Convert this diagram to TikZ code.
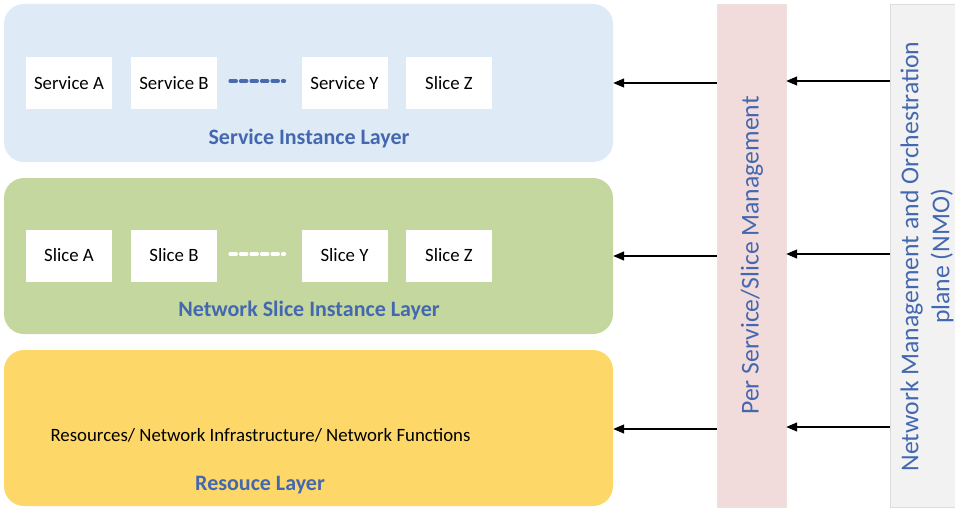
\documentclass[tikz,border=0pt]{standalone}
\usepackage{fontspec}
\setmainfont{Carlito}
\usetikzlibrary{arrows.meta}
\definecolor{svcfill}{HTML}{DEEAF6}
\definecolor{slcfill}{HTML}{C4D79E}
\definecolor{resfill}{HTML}{FDD868}
\definecolor{layertext}{HTML}{4468B0}
\definecolor{pmfill}{HTML}{F2DCDB}
\definecolor{pmedge}{HTML}{EDE2E1}
\definecolor{nmofill}{HTML}{F2F2F2}
\definecolor{nmoedge}{HTML}{DCDCDC}
\definecolor{dotblue}{HTML}{4A6AAE}
\tikzset{
  layer/.style={rounded corners=20pt, minimum width=609pt, inner sep=0pt, draw=none},
  item/.style={fill=white, minimum width=86pt, minimum height=52pt, inner sep=0pt,
               font=\fontsize{18.8}{20}\selectfont},
  layername/.style={text=layertext, font=\bfseries\fontsize{22}{24}\selectfont},
  bar/.style={minimum height=503pt, inner sep=0pt},
  bartext/.style={text=layertext, rotate=90, align=center, font=\fontsize{25.7}{31}\selectfont},
  ellip/.style={line width=3.5pt, line cap=round, dash pattern=on 6pt off 4.5pt},
  arr/.style={line width=1.2pt, -{Triangle[length=11pt,width=9pt]}}
}
\begin{document}
\begin{tikzpicture}[x=1pt, y=-1pt]
\useasboundingbox (0,0) rectangle (955,508);

% three layers
\node[layer, fill=svcfill, minimum height=158pt] (sil) at (308.5,83) {};
\node[layer, fill=slcfill, minimum height=156pt] (nsil) at (308.5,256) {};
\node[layer, fill=resfill, minimum height=156pt] (rl) at (308.5,428) {};

% service instances
\node[item] (sa) at (69,83) {Service A};
\node[item] (sb) at (174,83) {Service B};
\node[item] (sy) at (344.5,83) {Service Y};
\node[item] (sz) at (449,83) {Slice Z};
\draw[ellip, draw=dotblue, shorten <=13pt, shorten >=17pt] ([yshift=2pt]sb.east) -- ([yshift=2pt]sy.west);
\node[layername] (silname) at (309,139) {Service Instance Layer};

% network slice instances
\node[item] (na) at (69,255.5) {Slice A};
\node[item] (nb) at (174,255.5) {Slice B};
\node[item] (ny) at (344.5,255.5) {Slice Y};
\node[item] (nz) at (449,255.5) {Slice Z};
\draw[ellip, draw=white, shorten <=13pt, shorten >=17pt] ([yshift=1.5pt]nb.east) -- ([yshift=1.5pt]ny.west);
\node[layername] (nsilname) at (309,311) {Network Slice Instance Layer};

% resource layer
\node[font=\fontsize{18.8}{20}\selectfont] (res) at (260.5,435) {Resources/ Network Infrastructure/ Network Functions};
\node[layername] (rlname) at (260,485) {Resouce Layer};

% management bars
\node[bar, fill=pmfill, draw=pmedge, minimum width=69pt] (pm) at (751.5,255.5) {};
\node[bartext] (pmtext) at (752,255.5) {Per Service/Slice Management};
\node[bar, fill=nmofill, draw=nmoedge, minimum width=65pt] (nmo) at (922.5,255.5) {};
\node[bartext] (nmotext) at (927,256.5) {Network Management and Orchestration\\plane (NMO)};

% control arrows
\foreach \L/\y in {sil/83, nsil/256, rl/429}{
  \draw[arr] (pm.west |- 0,\y) -- (\L.east |- 0,\y);
  \draw[arr] (nmo.west |- 0,\y-2) -- (pm.east |- 0,\y-2);
}
\end{tikzpicture}
\end{document}
